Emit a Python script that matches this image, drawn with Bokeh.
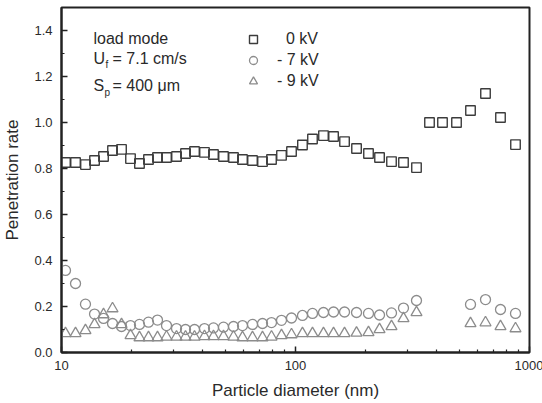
import numpy as np
from bokeh.plotting import figure
from bokeh.models import Range1d, FixedTicker, PrintfTickFormatter, Label, Legend, LegendItem
from bokeh.embed import file_html
from bokeh.resources import INLINE

# Particle diameter (nm)
diam = [10.40, 11.48, 12.66, 13.84, 15.12, 16.52, 18.05, 19.72, 21.54, 23.54,
        25.72, 28.10, 31.01, 33.88, 37.02, 40.84, 44.62, 49.24, 54.33, 59.36,
        65.50, 72.27, 78.97, 87.13, 96.15, 107.1, 118.2, 131.7, 145.4, 162.0,
        182.3, 205.1, 228.6, 257.2, 289.4, 328.9,
        373.8, 424.8, 487.6, 559.6, 648.6, 751.7, 871.3]

pen_0kV = [0.826, 0.826, 0.817, 0.835, 0.852, 0.878, 0.883, 0.843, 0.822, 0.839,
           0.848, 0.848, 0.852, 0.865, 0.874, 0.870, 0.861, 0.852, 0.848, 0.839,
           0.835, 0.830, 0.839, 0.857, 0.874, 0.902, 0.928, 0.943, 0.939, 0.917,
           0.887, 0.865, 0.848, 0.830, 0.826, 0.804,
           1.000, 1.000, 1.000, 1.052, 1.126, 1.022, 0.904]

pen_7kV = [0.357, 0.300, 0.210, 0.167, 0.148, 0.126, 0.113, 0.117, 0.122, 0.132,
           0.141, 0.117, 0.104, 0.100, 0.100, 0.104, 0.107, 0.110, 0.113, 0.117,
           0.122, 0.126, 0.130, 0.140, 0.150, 0.161, 0.170, 0.174, 0.176, 0.176,
           0.174, 0.170, 0.163, 0.172, 0.193, 0.226,
           None, None, None, 0.209, 0.230, 0.187, 0.170]

pen_9kV = [0.083, 0.083, 0.096, 0.122, 0.165, 0.191, 0.122, 0.074, 0.065, 0.065,
           0.065, 0.068, 0.068, 0.068, 0.068, 0.070, 0.070, 0.070, 0.068, 0.065,
           0.065, 0.065, 0.068, 0.074, 0.078, 0.083, 0.083, 0.083, 0.083, 0.083,
           0.085, 0.087, 0.100, 0.113, 0.148, 0.174,
           None, None, None, 0.126, 0.130, 0.113, 0.104]

series_labels = ["\u20070 kV", "- 7 kV", "- 9 kV"]

x_ticks = [10, 100, 1000]
x_tick_labels = ["10", "100", "1000"]
x_minor = [20, 30, 40, 50, 60, 70, 80, 90, 200, 300, 400, 500, 600, 700, 800, 900]
y_ticks = [0.0, 0.2, 0.4, 0.6, 0.8, 1.0, 1.2, 1.4]
y_minor = [0.1, 0.3, 0.5, 0.7, 0.9, 1.1, 1.3]

FONT = "Liberation Sans"
TXT = "#2a2a2a"

p = figure(frame_width=468, frame_height=345, x_axis_type="log",
           x_range=Range1d(10, 1000), y_range=Range1d(0, 1.5),
           output_backend="svg", toolbar_location=None,
           min_border_left=60, min_border_right=14, min_border_top=7, min_border_bottom=51)
p.background_fill_color = "white"
p.border_fill_color = "white"
p.grid.visible = False
p.outline_line_color = "#222222"
p.outline_line_width = 2

x = np.array(diam, dtype=float)
y0 = np.array(pen_0kV, dtype=float)
y7 = np.array(pen_7kV, dtype=float)
y9 = np.array(pen_9kV, dtype=float)

r0 = p.scatter(x, y0, marker="square", size=9.5, line_color="#3c3c3c", line_width=1.4, fill_alpha=0)
r7 = p.scatter(x, y7, marker="circle", size=10, line_color="#8c8c8c", line_width=1.3, fill_alpha=0)
r9 = p.scatter(x, y9, marker="triangle", size=11, line_color="#8c8c8c", line_width=1.3, fill_alpha=0)

for ax in (p.xaxis[0], p.yaxis[0]):
    ax.axis_line_color = "#222222"
    ax.axis_line_width = 2
    ax.major_tick_line_color = "#222222"
    ax.minor_tick_line_color = "#222222"
    ax.major_tick_line_width = 1.5
    ax.minor_tick_line_width = 1.2
    ax.major_tick_in = 6
    ax.major_tick_out = 0
    ax.minor_tick_in = 3
    ax.minor_tick_out = 0
    ax.major_label_text_font = FONT
    ax.major_label_text_font_size = "13px"
    ax.major_label_text_color = TXT
    ax.axis_label_text_font = FONT
    ax.axis_label_text_font_size = "17px"
    ax.axis_label_text_font_style = "normal"
    ax.axis_label_text_color = TXT

p.xaxis.ticker = FixedTicker(ticks=x_ticks, minor_ticks=x_minor)
p.xaxis.major_label_overrides = dict(zip(x_ticks, x_tick_labels))
p.xaxis.major_label_standoff = 8
p.xaxis.axis_label = "Particle diameter (nm)"
p.xaxis.axis_label_standoff = 8

p.yaxis.ticker = FixedTicker(ticks=y_ticks, minor_ticks=y_minor)
p.yaxis.formatter = PrintfTickFormatter(format="%.1f")
p.yaxis.major_label_standoff = 9
p.yaxis.axis_label = "Penetration rate"
p.yaxis.axis_label_standoff = 9

# in-plot annotation text
ax0 = 10
def lab(text, y, dx, dy=0, size="16px"):
    p.add_layout(Label(x=ax0, y=y, x_offset=dx, y_offset=dy, text=text,
                       text_font=FONT, text_font_size=size, text_color=TXT,
                       text_baseline="middle", text_align="left"))

lab("load mode", 1.365, 32)
lab("U", 1.278, 32)
lab("f", 1.278, 44, -6, "10px")
lab("= 7.1 cm/s", 1.278, 51)
lab("S", 1.161, 32)
lab("p", 1.161, 43, -7, "10px")
lab("= 400 \u03bcm", 1.161, 51)

legend = Legend(items=[LegendItem(label=series_labels[0], renderers=[r0]),
                       LegendItem(label=series_labels[1], renderers=[r7]),
                       LegendItem(label=series_labels[2], renderers=[r9])],
                location=(182, 261), orientation="vertical",
                glyph_width=20, glyph_height=20, label_height=20, spacing=1,
                padding=0, margin=0, label_standoff=14,
                border_line_color=None, background_fill_alpha=0,
                label_text_font=FONT, label_text_font_size="16px", label_text_color=TXT)
p.add_layout(legend)

open("out.html", "w").write(file_html(p, INLINE))
